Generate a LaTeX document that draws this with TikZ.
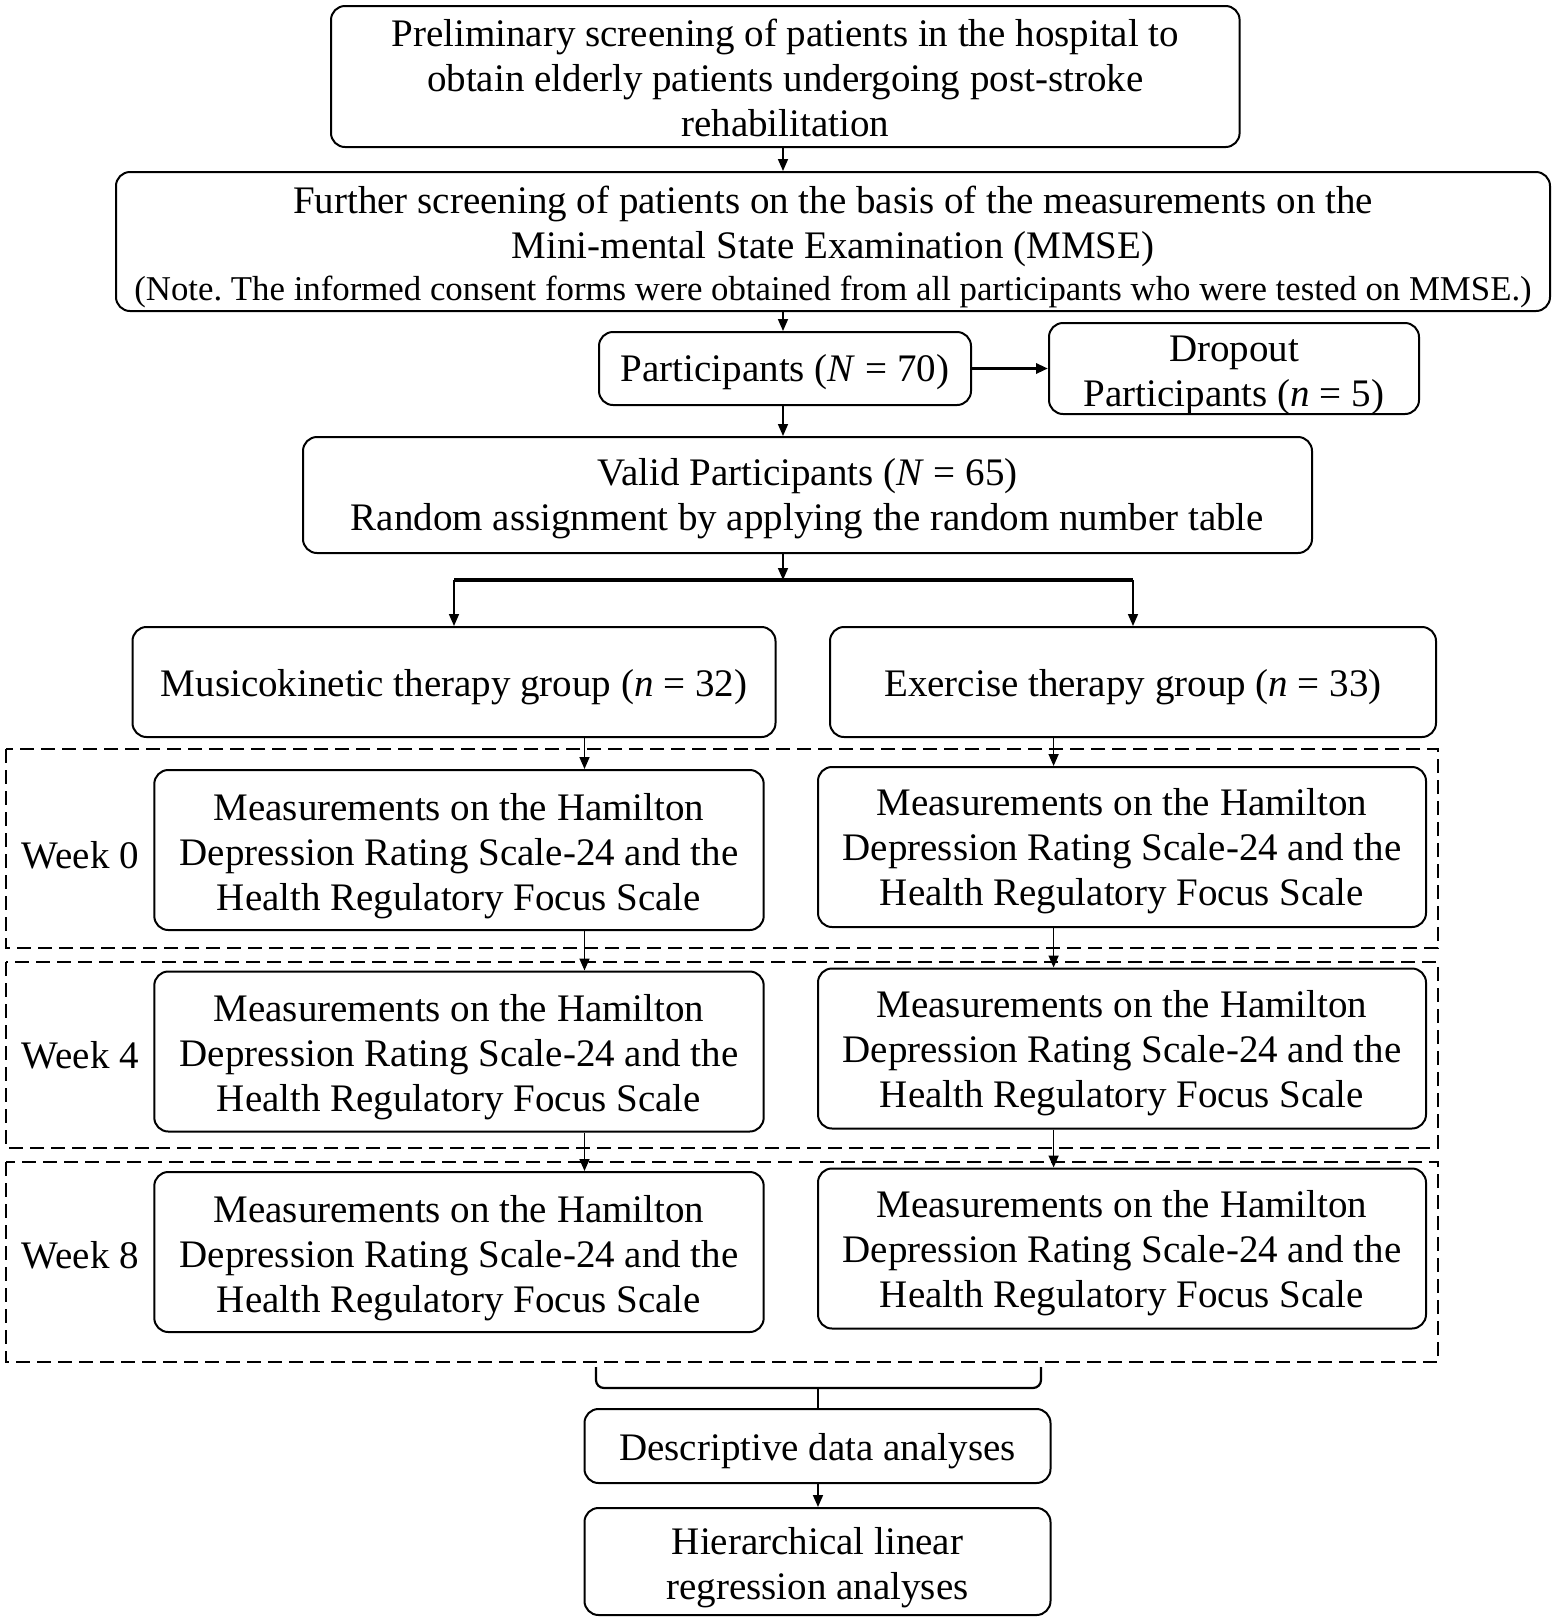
\documentclass[tikz,border=0pt]{standalone}
\usepackage{fontspec}
\setmainfont{Liberation Serif}
\usetikzlibrary{arrows.meta}
\frenchspacing
\newcommand\boxtext[2][2.5pt]{\raisebox{-#1}[\height][\depth]{\begin{tabular}{@{}c@{}}#2\end{tabular}}}
\begin{document}
\begin{tikzpicture}[x=0.5pt,y=-0.5pt,
  box/.style={draw, line width=1pt, rounded corners=7pt, inner sep=0pt, font=\fontsize{19.5}{22.5}\selectfont},
  lbl/.style={inner sep=0pt, font=\fontsize{19.5}{22.5}\selectfont},
  arr/.style={line width=0.8pt, -{Triangle[length=6pt,width=5pt]}},
  dbox/.style={draw, line width=0.9pt, dash pattern=on 7pt off 3.5pt},
  brace/.style={line width=1.1pt, rounded corners=4pt},
]
\useasboundingbox (0,0) rectangle (1559,1619);

% dashed week frames
\draw[dbox] (6,749) rectangle (1438,948);
\draw[dbox] (6,962) rectangle (1438,1148);
\draw[dbox] (6,1162) rectangle (1438,1362);

\node[box, minimum width=454.3pt, minimum height=70.5pt] (s1) at (785.3,76.5)
  {\boxtext[3pt]{Preliminary screening of patients in the hospital to\\obtain elderly patients undergoing post-stroke\\rehabilitation}};
\node[box, minimum width=717pt, minimum height=69.5pt] (s2) at (833,241.5)
  {\boxtext[3.3pt]{Further screening of patients on the basis of the measurements on the\\Mini-mental State Examination (MMSE)\\[-1.75pt]
   \fontsize{17.4}{20}\selectfont (Note. The informed consent forms were obtained from all participants who were tested on MMSE.)}};
\node[box, minimum width=186pt, minimum height=36.5pt] (p) at (785,368.5)
  {\boxtext[2pt]{Participants (\textit{N} = 70)}};
\node[box, minimum width=185pt, minimum height=45.5pt] (d) at (1234,368.5)
  {\boxtext[3.3pt]{Dropout\\Participants (\textit{n} = 5)}};
\node[box, minimum width=504.5pt, minimum height=58pt] (v) at (807.5,495)
  {\boxtext[2.2pt]{Valid Participants (\textit{N} = 65)\\Random assignment by applying the random number table}};
\node[box, minimum width=321.5pt, minimum height=55pt] (mk) at (454,682)
  {\boxtext{Musicokinetic therapy group (\textit{n} = 32)}};
\node[box, minimum width=303pt, minimum height=55pt] (ex) at (1133,682)
  {\boxtext{Exercise therapy group (\textit{n} = 33)}};

\node[box, minimum width=304.7pt, minimum height=80pt] (L0) at (459,850)
  {\boxtext[3pt]{Measurements on the Hamilton\\Depression Rating Scale-24 and the\\Health Regulatory Focus Scale}};
\node[box, minimum width=304pt, minimum height=80pt] (R0) at (1122,847)
  {\boxtext[2.4pt]{Measurements on the Hamilton\\Depression Rating Scale-24 and the\\Health Regulatory Focus Scale}};
\node[box, minimum width=304.7pt, minimum height=80pt] (L4) at (459,1051.5)
  {\boxtext[3pt]{Measurements on the Hamilton\\Depression Rating Scale-24 and the\\Health Regulatory Focus Scale}};
\node[box, minimum width=304pt, minimum height=80pt] (R4) at (1122,1048.5)
  {\boxtext[2.4pt]{Measurements on the Hamilton\\Depression Rating Scale-24 and the\\Health Regulatory Focus Scale}};
\node[box, minimum width=304.7pt, minimum height=80pt] (L8) at (459,1252)
  {\boxtext[3pt]{Measurements on the Hamilton\\Depression Rating Scale-24 and the\\Health Regulatory Focus Scale}};
\node[box, minimum width=304pt, minimum height=80pt] (R8) at (1122,1248.5)
  {\boxtext[2.4pt]{Measurements on the Hamilton\\Depression Rating Scale-24 and the\\Health Regulatory Focus Scale}};

\node[lbl] (w0) at (80.5,855) {Week 0};
\node[lbl] (w4) at (80.5,1055) {Week 4};
\node[lbl] (w8) at (80.5,1255) {Week 8};

\node[box, minimum width=233pt, minimum height=37pt] (desc) at (817.5,1446)
  {\boxtext{Descriptive data analyses}};
\node[box, minimum width=233pt, minimum height=53.5pt] (hier) at (817.5,1561.5)
  {\boxtext[3.3pt]{Hierarchical linear\\regression analyses}};

% connectors
\coordinate (cA) at (783,0);
\coordinate (cL) at (584.5,0);
\coordinate (cR) at (1053.6,0);
\coordinate (j) at (783,580);
\draw[arr] (s1.south -| cA) -- (s2.north -| cA);
\draw[arr] (s2.south -| cA) -- (p.north -| cA);
\draw[arr, line width=1.8pt] (p.east) -- (d.west);
\draw[arr] (p.south -| cA) -- (v.north -| cA);
\draw[arr] (v.south -| cA) -- (j);
\draw[line width=2pt] (mk.north |- j) -- (ex.north |- j);
\draw[arr] (mk.north |- j) -- (mk.north);
\draw[arr] (ex.north |- j) -- (ex.north);

\draw[arr] (mk.south -| cL) -- (L0.north -| cL);
\draw[arr] (L0.south -| cL) -- (L4.north -| cL);
\draw[arr] (L4.south -| cL) -- (L8.north -| cL);
\draw[arr] (ex.south -| cR) -- (R0.north -| cR);
\draw[arr] (R0.south -| cR) -- (R4.north -| cR);
\draw[arr] (R4.south -| cR) -- (R8.north -| cR);

% brace to analyses
\coordinate (bl) at (596,1367);
\coordinate (br) at (1041,1367);
\coordinate (bm) at (818,1388);
\draw[brace] (bl) -- (bl |- bm) -- (br |- bm) -- (br);
\draw[line width=1.1pt] (bm) -- (desc.north -| bm);
\draw[arr] (desc.south -| bm) -- (hier.north -| bm);
\end{tikzpicture}
\end{document}
